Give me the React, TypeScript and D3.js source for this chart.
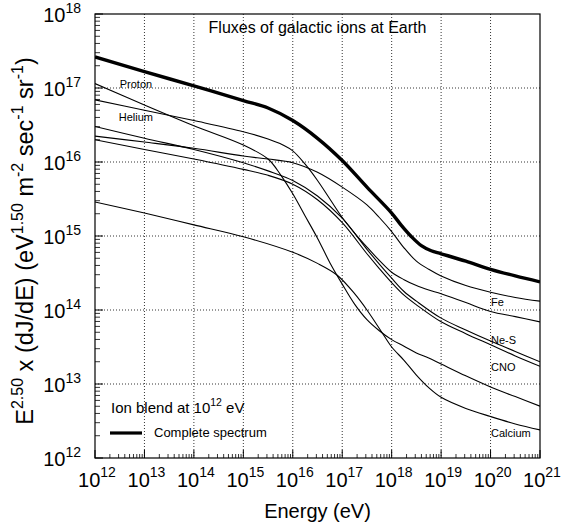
import React from "react";
import * as d3 from "d3";

// [log10 Energy (eV), log10 flux]
const PROTON: [number, number][] = [
  [12, 17.06], [13, 16.77], [14, 16.49], [15, 16.23], [15.5, 16.04], [15.75, 15.83], [16, 15.57],
  [16.25, 15.27], [16.5, 14.97], [16.75, 14.64], [17, 14.35], [17.25, 14.08], [17.5, 13.87],
  [17.75, 13.72], [18, 13.6], [18.25, 13.51], [18.5, 13.42], [18.75, 13.35], [19, 13.27],
  [19.5, 13.11], [20, 12.96], [20.5, 12.83], [21, 12.7],
];
const HELIUM: [number, number][] = [
  [12, 16.84], [13, 16.7], [14, 16.56], [15, 16.41], [15.5, 16.31], [15.8, 16.23], [16, 16.15],
  [16.25, 15.97], [16.5, 15.75], [16.75, 15.5], [17, 15.25], [17.25, 15.04], [17.5, 14.85],
  [17.75, 14.67], [18, 14.51], [18.25, 14.41], [18.5, 14.33], [18.75, 14.27], [19, 14.22],
  [19.5, 14.1], [20, 13.98], [20.5, 13.91], [21, 13.84],
];
const FE: [number, number][] = [
  [12, 16.35], [13, 16.27], [14, 16.185], [15, 16.08], [15.5, 16.04], [16, 15.99], [16.5, 15.86],
  [17, 15.66], [17.5, 15.42], [17.75, 15.25], [18, 15.06], [18.25, 14.84], [18.5, 14.66],
  [18.75, 14.55], [19, 14.46], [19.5, 14.33], [20, 14.24], [20.5, 14.17], [21, 14.12],
];
const NES: [number, number][] = [
  [12, 16.48], [13, 16.32], [14, 16.17], [15, 15.99], [15.5, 15.88], [16, 15.75], [16.5, 15.54],
  [17, 15.24], [17.5, 14.82], [17.75, 14.62], [18, 14.43], [18.25, 14.25], [18.5, 14.12],
  [19, 13.89], [19.5, 13.73], [20, 13.58], [20.5, 13.44], [21, 13.3],
];
const CNO: [number, number][] = [
  [12, 16.3], [13, 16.17], [14, 16.04], [15, 15.9], [15.5, 15.82], [16, 15.7], [16.5, 15.49],
  [17, 15.18], [17.5, 14.76], [17.75, 14.56], [18, 14.37], [18.25, 14.2], [18.5, 14.07],
  [19, 13.84], [19.5, 13.68], [20, 13.53], [20.5, 13.38], [21, 13.24],
];
const CALCIUM: [number, number][] = [
  [12, 15.46], [13, 15.31], [14, 15.15], [15, 14.99], [16, 14.78], [16.5, 14.63], [16.9, 14.47],
  [17.25, 14.22], [17.5, 14.0], [17.8, 13.7], [18, 13.5], [18.25, 13.32], [18.5, 13.12],
  [18.75, 12.95], [19, 12.82], [19.5, 12.67], [20, 12.56], [20.5, 12.46], [21, 12.38],
];
const COMPLETE: [number, number][] = [
  [12, 17.42], [13, 17.22], [14, 17.03], [15, 16.83], [15.5, 16.73], [16, 16.56], [16.5, 16.32],
  [17, 16.02], [17.5, 15.66], [18, 15.31], [18.2, 15.14], [18.4, 14.99], [18.6, 14.87],
  [18.8, 14.8], [19, 14.76], [19.5, 14.66], [20, 14.55], [20.5, 14.46], [21, 14.38],
];

const X_EXPONENTS = [12, 13, 14, 15, 16, 17, 18, 19, 20, 21];
const Y_EXPONENTS = [12, 13, 14, 15, 16, 17, 18];

const THIN_SERIES = [PROTON, HELIUM, FE, NES, CNO, CALCIUM];

const LEFT_LABELS = [
  { text: "Proton", e: 12.5, f: 17.0 },
  { text: "Helium", e: 12.48, f: 16.56 },
];
const RIGHT_LABELS = [
  { text: "Fe", f: 14.05 },
  { text: "Ne-S", f: 13.54 },
  { text: "CNO", f: 13.17 },
  { text: "Calcium", f: 12.29 },
];

const W = 566, H = 529;
const L = 95, R = 540, T = 14, B = 458;
const FONT = "'Liberation Sans', Arial, Helvetica, sans-serif";

export default function App() {
  const x = d3.scaleLog().domain([1e12, 1e21]).range([L, R]);
  const y = d3.scaleLog().domain([1e12, 1e18]).range([B, T]);
  const line = d3
    .line<[number, number]>()
    .x((d) => x(Math.pow(10, d[0])))
    .y((d) => y(Math.pow(10, d[1])))
    .curve(d3.curveCatmullRom.alpha(0.5));

  const minorX: number[] = [];
  X_EXPONENTS.slice(0, -1).forEach((e) => {
    for (let k = 2; k <= 9; k++) minorX.push(k * Math.pow(10, e));
  });
  const minorY: number[] = [];
  Y_EXPONENTS.slice(0, -1).forEach((e) => {
    for (let k = 2; k <= 9; k++) minorY.push(k * Math.pow(10, e));
  });

  return (
    <svg width={W} height={H} style={{ position: "absolute", left: 0, top: 0, background: "#fff" }} fontFamily={FONT}>
      <defs>
        <clipPath id="plotclip">
          <rect x={L} y={T} width={R - L} height={B - T} />
        </clipPath>
      </defs>
      <rect x={0} y={0} width={W} height={H} fill="#fff" />
      {/* grid */}
      {X_EXPONENTS.slice(1, -1).map((e) => (
        <line key={"gx" + e} x1={x(Math.pow(10, e))} x2={x(Math.pow(10, e))} y1={T} y2={B}
          stroke="#000" strokeWidth={0.8} strokeDasharray="1,2" />
      ))}
      {Y_EXPONENTS.slice(1, -1).map((e) => (
        <line key={"gy" + e} x1={L} x2={R} y1={y(Math.pow(10, e))} y2={y(Math.pow(10, e))}
          stroke="#000" strokeWidth={0.8} strokeDasharray="1,2" />
      ))}
      {/* ticks */}
      {minorX.map((v, i) => (
        <line key={"mx" + i} x1={x(v)} x2={x(v)} y1={B} y2={B - 4} stroke="#000" strokeWidth={0.8} />
      ))}
      {X_EXPONENTS.map((e) => (
        <line key={"Mx" + e} x1={x(Math.pow(10, e))} x2={x(Math.pow(10, e))} y1={B} y2={B - 8} stroke="#000" strokeWidth={1} />
      ))}
      {minorY.map((v, i) => (
        <line key={"my" + i} x1={L} x2={L + 5} y1={y(v)} y2={y(v)} stroke="#000" strokeWidth={0.8} />
      ))}
      {Y_EXPONENTS.map((e) => (
        <line key={"My" + e} x1={L} x2={L + 8} y1={y(Math.pow(10, e))} y2={y(Math.pow(10, e))} stroke="#000" strokeWidth={1} />
      ))}
      {/* curves */}
      <g clipPath="url(#plotclip)" fill="none" stroke="#000">
        {THIN_SERIES.map((s, i) => (
          <path key={"s" + i} d={line(s) || ""} strokeWidth={1.1} />
        ))}
        <path d={line(COMPLETE) || ""} strokeWidth={3.4} />
      </g>
      {/* frame */}
      <rect x={L} y={T} width={R - L} height={B - T} fill="none" stroke="#000" strokeWidth={1.2} />
      {/* x tick labels */}
      {X_EXPONENTS.map((e) => (
        <text key={"xl" + e} x={x(Math.pow(10, e)) + 2} y={487} textAnchor="middle" fontSize={20}>
          10<tspan dy={-10} fontSize={14}>{e}</tspan>
        </text>
      ))}
      {/* y tick labels */}
      {Y_EXPONENTS.map((e) => (
        <text key={"yl" + e} x={81} y={y(Math.pow(10, e)) + 8} textAnchor="end" fontSize={20}>
          10<tspan dy={-9} fontSize={14}>{e}</tspan>
        </text>
      ))}
      {/* title */}
      <text x={(L + R) / 2} y={33} textAnchor="middle" fontSize={16}>Fluxes of galactic ions at Earth</text>
      {/* series labels */}
      {LEFT_LABELS.map((l) => (
        <text key={l.text} x={x(Math.pow(10, l.e))} y={y(Math.pow(10, l.f))} fontSize={11}>{l.text}</text>
      ))}
      {RIGHT_LABELS.map((l) => (
        <text key={l.text} x={491} y={y(Math.pow(10, l.f))} fontSize={11}>{l.text}</text>
      ))}
      {/* legend */}
      <text x={111} y={413} fontSize={15}>
        Ion blend at 10<tspan dy={-7} fontSize={10.5}>12</tspan><tspan dy={7}> eV</tspan>
      </text>
      <line x1={110} x2={142} y1={433} y2={433} stroke="#000" strokeWidth={3.2} />
      <text x={154} y={437} fontSize={13}>Complete spectrum</text>
      {/* axis titles */}
      <text x={(L + R) / 2} y={518} textAnchor="middle" fontSize={20}>Energy (eV)</text>
      <g transform={`translate(33, ${(T + B) / 2 + 5}) rotate(-90)`}>
        <text x={0} y={0} textAnchor="middle" fontSize={23.5}>
          E<tspan dy={-10} fontSize={16}>2.50</tspan>
          <tspan dy={10}> x (dJ/dE)  (eV</tspan>
          <tspan dy={-10} fontSize={16}>1.50</tspan>
          <tspan dy={10}> m</tspan>
          <tspan dy={-10} fontSize={16}>-2</tspan>
          <tspan dy={10}> sec</tspan>
          <tspan dy={-10} fontSize={16}>-1</tspan>
          <tspan dy={10}> sr</tspan>
          <tspan dy={-10} fontSize={16}>-1</tspan>
          <tspan dy={10}>)</tspan>
        </text>
      </g>
    </svg>
  );
}
